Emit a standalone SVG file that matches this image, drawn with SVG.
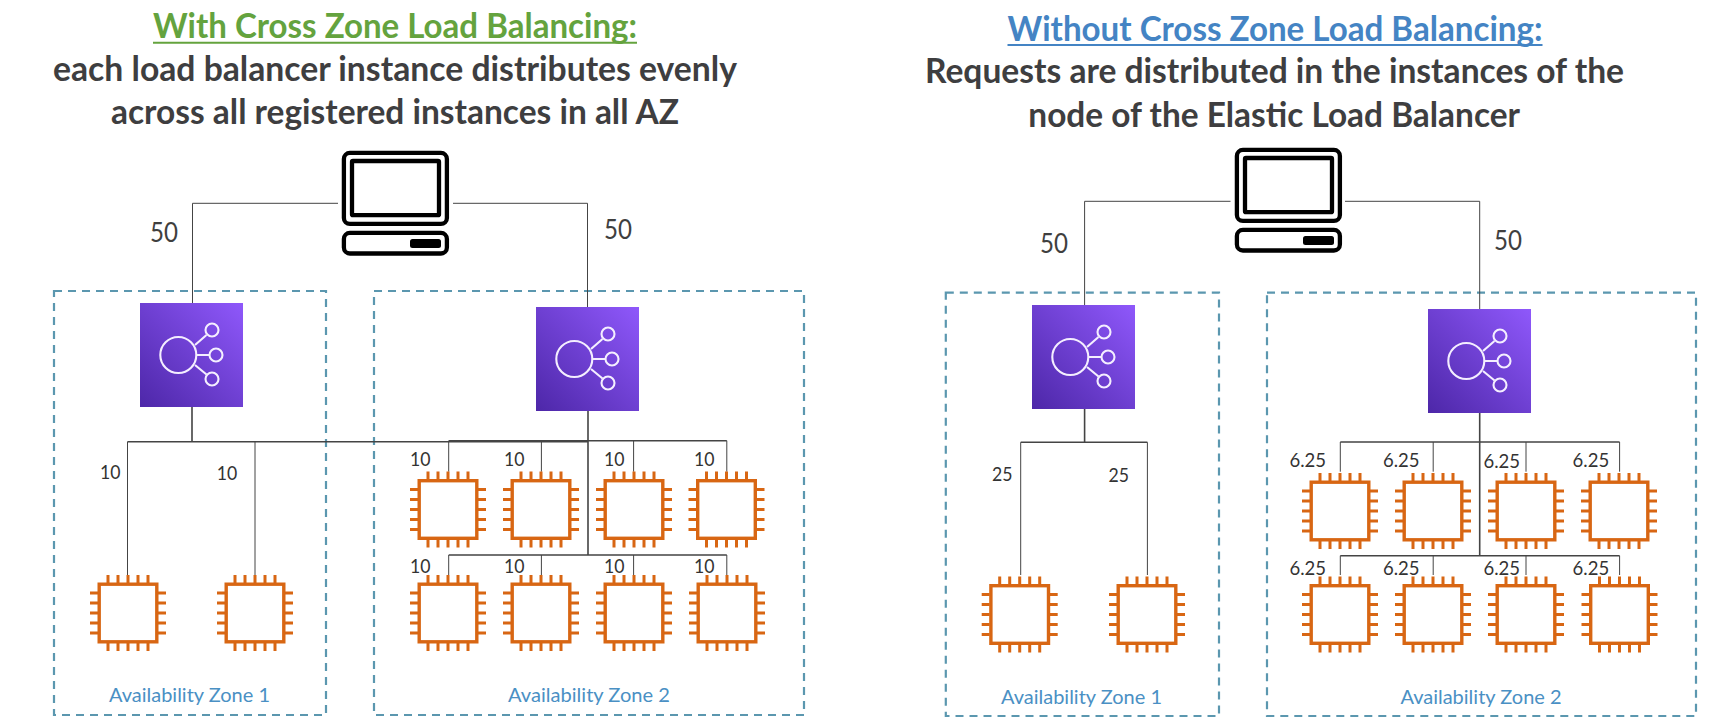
<svg xmlns="http://www.w3.org/2000/svg" width="1717" height="724" viewBox="0 0 1717 724">
<style>
text{font-family:Lato,"Liberation Sans",sans-serif}
.h{font-size:35px;font-weight:700}
.d{font-size:35px;font-weight:700;fill:#3e3e40}
.n{font-size:26px;fill:#3f3f3f}
.s{font-size:19px;fill:#333}
.az{font-size:20px;fill:#4a90c4}
.zone{fill:none;stroke:#5b97af;stroke-width:2.2;stroke-dasharray:8 6}
.c{fill:none;stroke:#444;stroke-width:1}
.b{fill:none;stroke:#444;stroke-width:1.6}
.chip{fill:#fff;stroke:#d86613;stroke-width:3.4}
.pin{fill:none;stroke:#d86613;stroke-width:3}
.li{fill:none;stroke:#f4eeff;stroke-width:2.1}
.pc{fill:#fff;stroke:#000;stroke-width:4.3}
</style>
<defs>
<linearGradient id="lbg" x1="0" y1="1" x2="1" y2="0"><stop offset="0" stop-color="#4d27a8"/><stop offset="1" stop-color="#8f58fb"/></linearGradient>
<g id="pcIcon">
<rect class="pc" x="343.9" y="152.9" width="103" height="71" rx="6"/>
<rect class="pc" x="352" y="161" width="87" height="54.2" rx="1"/>
<rect class="pc" x="343.9" y="232.9" width="103" height="20.6" rx="6"/>
<rect x="410" y="239" width="31" height="9" rx="2.5" fill="#000"/>
</g>
<g id="lbIcon">
<rect width="103" height="104" fill="url(#lbg)"/>
<circle class="li" cx="38.3" cy="52" r="18"/>
<circle class="li" cx="72" cy="27" r="6.5"/>
<circle class="li" cx="76" cy="52" r="6.5"/>
<circle class="li" cx="72" cy="76" r="6.5"/>
<path class="li" d="M55 42L66.5 32M57 52H69.5M55 62L66.5 71.500"/>
</g>
<g id="chipIcon">
<path class="pin" d="M-20-38V-30M-10-38V-30M0-38V-30M10-38V-30M20-38V-30M-20 30V38M-10 30V38M0 30V38M10 30V38M20 30V38M-38-20H-30M-38-10H-30M-38 0H-30M-38 10H-30M-38 20H-30M30-20H38M30-10H38M30 0H38M30 10H38M30 20H38"/>
<rect class="chip" x="-28.800" y="-28.800" width="57.600" height="57.600"/>
</g>
</defs>
<rect width="1717" height="724" fill="#fff"/>

<g id="titles">
<text class="h" x="153" y="38" fill="#64a33e" textLength="484" lengthAdjust="spacingAndGlyphs">With Cross Zone Load Balancing:</text>
<line x1="153" y1="42.800" x2="637" y2="42.800" stroke="#64a33e" stroke-width="2"/>
<text class="d" x="53" y="81" textLength="684" lengthAdjust="spacingAndGlyphs">each load balancer instance distributes evenly</text>
<text class="d" x="111" y="124" textLength="568" lengthAdjust="spacingAndGlyphs">across all registered instances in all AZ</text>
<text class="h" x="1007.500" y="40.700" fill="#4484c4" textLength="535" lengthAdjust="spacingAndGlyphs">Without Cross Zone Load Balancing:</text>
<line x1="1007.500" y1="45" x2="1542.500" y2="45" stroke="#4484c4" stroke-width="2"/>
<text class="d" x="925" y="83.300" textLength="699" lengthAdjust="spacingAndGlyphs">Requests are distributed in the instances of the</text>
<text class="d" x="1028.300" y="126.700" textLength="491.700" lengthAdjust="spacingAndGlyphs">node of the Elastic Load Balancer</text>
</g>

<g id="az-left-1"><rect class="zone" x="54" y="291" width="272" height="424"/><text class="az" x="109" y="701.700" textLength="161" lengthAdjust="spacingAndGlyphs">Availability Zone 1</text></g>
<g id="az-left-2"><rect class="zone" x="374" y="291" width="430" height="424"/><text class="az" x="508" y="701.700" textLength="162" lengthAdjust="spacingAndGlyphs">Availability Zone 2</text></g>
<g id="az-right-1"><rect class="zone" x="945.800" y="292.700" width="273.200" height="423.300"/><text class="az" x="1001" y="703.700" textLength="161" lengthAdjust="spacingAndGlyphs">Availability Zone 1</text></g>
<g id="az-right-2"><rect class="zone" x="1267" y="292.700" width="429" height="423.300"/><text class="az" x="1400.400" y="703.700" textLength="161.200" lengthAdjust="spacingAndGlyphs">Availability Zone 2</text></g>

<g id="connectors">
<path class="c" d="M338 203.300H192.500V303M453 203.300H587.500V307"/>
<path class="b" d="M192 406.700V441.700M127.500 441.700H587.500M588 410.700V555M448.700 440.700H726.800M448.700 555H726.800"/>
<path class="c" d="M127.500 441.700V575M255 441.700V575M448.700 440.700V471.700M541.400 440.700V471.700M633.600 440.700V471.700M726.800 440.700V471.700M448.700 555V575M541.400 555V575M633.600 555V575M726.800 555V575"/>
<path class="c" d="M1230.500 201.300H1084.600V305M1345 201.300H1479.700V309"/>
<path class="b" d="M1084.600 408V442.300M1020.700 442.300H1147.400M1479.700 412V555.700M1340.300 442H1619.600M1340.300 555.700H1619.600"/>
<path class="c" d="M1020.700 442.300V575M1147.400 442.300V575M1340.300 442V471.700M1433.200 442V471.700M1526 442V471.700M1619.600 442V471.700M1340.300 555.700V575M1433.200 555.700V575M1526 555.700V575M1619.600 555.700V575"/>
</g>

<g id="connector-labels" lengthAdjust="spacingAndGlyphs">
<text class="n" x="150" y="241.700" textLength="28" lengthAdjust="spacingAndGlyphs">50</text>
<text class="n" x="604" y="239.300" textLength="28" lengthAdjust="spacingAndGlyphs">50</text>
<text class="s" x="100" y="479" textLength="20.500" lengthAdjust="spacingAndGlyphs">10</text>
<text class="s" x="216.700" y="480" textLength="20.500" lengthAdjust="spacingAndGlyphs">10</text>
<text class="s" x="410" y="465.700" textLength="20.500" lengthAdjust="spacingAndGlyphs">10</text>
<text class="s" x="504" y="465.700" textLength="20.500" lengthAdjust="spacingAndGlyphs">10</text>
<text class="s" x="604" y="465.700" textLength="20.500" lengthAdjust="spacingAndGlyphs">10</text>
<text class="s" x="694" y="465.700" textLength="20.500" lengthAdjust="spacingAndGlyphs">10</text>
<text class="s" x="410" y="572.700" textLength="20.500" lengthAdjust="spacingAndGlyphs">10</text>
<text class="s" x="504" y="572.700" textLength="20.500" lengthAdjust="spacingAndGlyphs">10</text>
<text class="s" x="604" y="572.700" textLength="20.500" lengthAdjust="spacingAndGlyphs">10</text>
<text class="s" x="694" y="572.700" textLength="20.500" lengthAdjust="spacingAndGlyphs">10</text>
<text class="n" x="1040" y="252.700" textLength="28" lengthAdjust="spacingAndGlyphs">50</text>
<text class="n" x="1494" y="250.300" textLength="28" lengthAdjust="spacingAndGlyphs">50</text>
<text class="s" x="992" y="481" textLength="20.500" lengthAdjust="spacingAndGlyphs">25</text>
<text class="s" x="1108.600" y="482" textLength="20.500" lengthAdjust="spacingAndGlyphs">25</text>
<text class="s" x="1289.500" y="466.700" textLength="36.600" lengthAdjust="spacingAndGlyphs">6.25</text>
<text class="s" x="1383" y="466.700" textLength="36.600" lengthAdjust="spacingAndGlyphs">6.25</text>
<text class="s" x="1483.500" y="467.700" textLength="36.600" lengthAdjust="spacingAndGlyphs">6.25</text>
<text class="s" x="1572.600" y="466.700" textLength="36.600" lengthAdjust="spacingAndGlyphs">6.25</text>
<text class="s" x="1289.500" y="575" textLength="36.600" lengthAdjust="spacingAndGlyphs">6.25</text>
<text class="s" x="1383" y="575" textLength="36.600" lengthAdjust="spacingAndGlyphs">6.25</text>
<text class="s" x="1483.500" y="575" textLength="36.600" lengthAdjust="spacingAndGlyphs">6.25</text>
<text class="s" x="1572.600" y="575" textLength="36.600" lengthAdjust="spacingAndGlyphs">6.25</text>
</g>

<g id="client-left"><use href="#pcIcon"/></g>
<g id="client-right"><use href="#pcIcon" transform="translate(893,-3)"/></g>
<g id="lb-left-1"><use href="#lbIcon" x="140" y="303"/></g>
<g id="lb-left-2"><use href="#lbIcon" x="536" y="307"/></g>
<g id="lb-right-1"><use href="#lbIcon" x="1032" y="305"/></g>
<g id="lb-right-2"><use href="#lbIcon" x="1428" y="309"/></g>

<g id="inst-l1-1"><use href="#chipIcon" x="128" y="613"/></g>
<g id="inst-l1-2"><use href="#chipIcon" x="255" y="613"/></g>
<g id="inst-l2-1"><use href="#chipIcon" x="448" y="509.500"/></g>
<g id="inst-l2-2"><use href="#chipIcon" x="541" y="509.500"/></g>
<g id="inst-l2-3"><use href="#chipIcon" x="634" y="509.500"/></g>
<g id="inst-l2-4"><use href="#chipIcon" x="726.500" y="509.500"/></g>
<g id="inst-l2-5"><use href="#chipIcon" x="448" y="613"/></g>
<g id="inst-l2-6"><use href="#chipIcon" x="541" y="613"/></g>
<g id="inst-l2-7"><use href="#chipIcon" x="634" y="613"/></g>
<g id="inst-l2-8"><use href="#chipIcon" x="727" y="613"/></g>
<g id="inst-r1-1"><use href="#chipIcon" x="1019.700" y="614.500"/></g>
<g id="inst-r1-2"><use href="#chipIcon" x="1147" y="614.500"/></g>
<g id="inst-r2-1"><use href="#chipIcon" x="1340" y="511"/></g>
<g id="inst-r2-2"><use href="#chipIcon" x="1433" y="511"/></g>
<g id="inst-r2-3"><use href="#chipIcon" x="1526" y="511"/></g>
<g id="inst-r2-4"><use href="#chipIcon" x="1619" y="511"/></g>
<g id="inst-r2-5"><use href="#chipIcon" x="1340" y="614.500"/></g>
<g id="inst-r2-6"><use href="#chipIcon" x="1433" y="614.500"/></g>
<g id="inst-r2-7"><use href="#chipIcon" x="1526" y="614.500"/></g>
<g id="inst-r2-8"><use href="#chipIcon" x="1619.500" y="614.500"/></g>
</svg>
